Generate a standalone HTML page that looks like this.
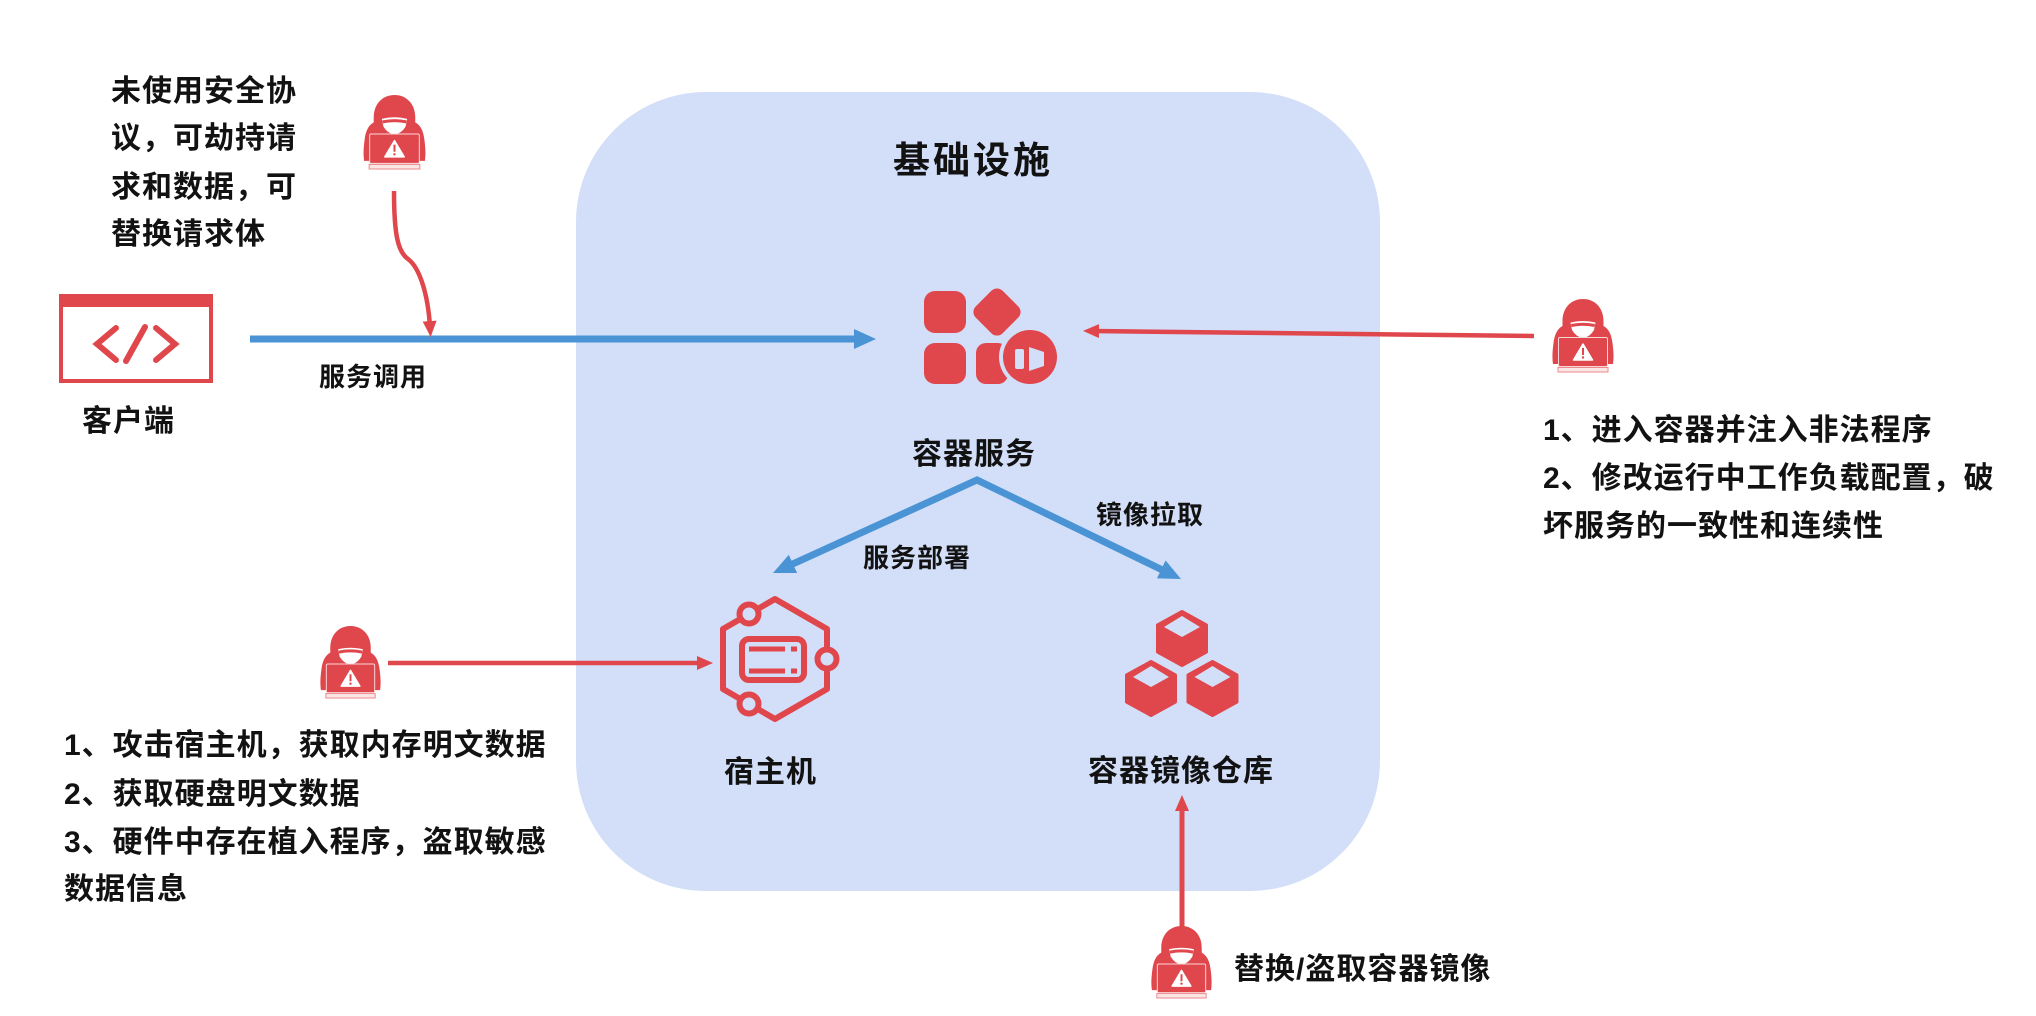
<!DOCTYPE html>
<html><head><meta charset="utf-8">
<style>
html,body{margin:0;padding:0;background:#fff;}
svg{display:block;}
text{font-family:"Liberation Sans","Noto Sans CJK SC",sans-serif;font-weight:bold;fill:#121212;}
.t{font-size:30px;letter-spacing:1px;}
.s{font-size:26px;letter-spacing:1px;}
.h{font-size:37px;letter-spacing:3px;}
</style></head><body>
<svg width="2036" height="1016" viewBox="0 0 2036 1016" xmlns="http://www.w3.org/2000/svg">
<defs>
<marker id="mb" markerUnits="userSpaceOnUse" markerWidth="22" markerHeight="20" refX="8" refY="10" orient="auto-start-reverse"><path d="M0,0 L22,10 L0,20 Z" fill="#4a94d6"/></marker>
<marker id="mr" markerUnits="userSpaceOnUse" markerWidth="16" markerHeight="14" refX="6" refY="7" orient="auto"><path d="M0,0 L16,7 L0,14 Z" fill="#e0474c"/></marker>
<symbol id="hk" viewBox="0 0 62 74">
 <path d="M31 0 C19 0 10.5 9 10.5 22 L10.5 27 C5 30 2.5 36 1.5 44 C0.5 52 0 58 1 65 L61 65 C62 58 61.5 52 60.5 44 C59.5 36 57 30 51.5 27 L51.5 22 C51.5 9 43 0 31 0 Z" fill="#e0474c"/>
 <path d="M18.5 23.5 Q31 20.5 43.5 23.5 L42 31 Q38 38 31 39 Q24 38 20 31 Z" fill="#fff"/>
 <path d="M19 25 Q31 22.5 43 25 L42.5 28 Q31 25.5 19.5 28 Z" fill="#e0474c"/>
 <rect x="6.5" y="38.5" width="49" height="29" rx="1.5" fill="#e0474c" stroke="#f7d6d7" stroke-width="1"/>
 <path d="M31 45 L40.5 61 L21.5 61 Z" fill="#fff" stroke="#fff" stroke-width="1.5" stroke-linejoin="round"/>
 <rect x="30" y="49" width="2" height="7" fill="#e0474c"/>
 <circle cx="31" cy="58.5" r="1.2" fill="#e0474c"/>
 <rect x="6" y="68.5" width="50" height="4.5" fill="#fbe6e6" stroke="#ec8a8d" stroke-width="1"/>
</symbol>
</defs>

<!-- infrastructure box -->
<rect x="576" y="92" width="804" height="799" rx="130" ry="130" fill="#d3dff8"/>

<!-- title -->
<text class="h" x="893" y="173">基础设施</text>

<!-- client icon -->
<rect x="61" y="296" width="150" height="85" fill="#fff" stroke="#e0474c" stroke-width="4"/>
<rect x="59" y="294" width="154" height="13" rx="2" fill="#e0474c"/>
<g fill="none" stroke="#e0474c" stroke-width="6" stroke-linecap="round" stroke-linejoin="miter">
 <polyline points="116,328 97,344 116,360"/>
 <line x1="145" y1="327" x2="126" y2="361"/>
 <polyline points="156,328 175,344 156,360"/>
</g>
<text class="t" x="82" y="431">客户端</text>

<!-- top-left text -->
<text class="t" x="111" y="101">未使用安全协</text>
<text class="t" x="111" y="148">议，可劫持请</text>
<text class="t" x="111" y="197">求和数据，可</text>
<text class="t" x="111" y="244">替换请求体</text>

<!-- hackers -->
<use href="#hk" x="363" y="95" width="63" height="75"/>
<use href="#hk" x="1552" y="299" width="62" height="74"/>
<use href="#hk" x="319" y="626" width="63" height="73"/>
<use href="#hk" x="1150" y="926" width="63" height="73"/>

<!-- blue service call line -->
<line x1="250" y1="339" x2="862" y2="339" stroke="#4a94d6" stroke-width="7" marker-end="url(#mb)"/>
<text class="s" x="319" y="386">服务调用</text>

<!-- red curved arrow from top hacker -->
<path d="M394 191 C394 235 398 252 408 259 C420 268 428 295 430 327" fill="none" stroke="#e0474c" stroke-width="4.5" marker-end="url(#mr)"/>

<!-- container service icon -->
<g fill="#e0474c">
 <rect x="924" y="291" width="42" height="42" rx="11"/>
 <rect x="924" y="343" width="42" height="41" rx="11"/>
 <rect x="978" y="293" width="38" height="38" rx="8" transform="rotate(45 997 312)"/>
 <rect x="976" y="343" width="32" height="41" rx="10"/>
</g>
<circle cx="1030" cy="357" r="31" fill="#d3dff8"/>
<circle cx="1030" cy="357" r="27" fill="#e0474c"/>
<rect x="1015" y="349" width="9" height="20" rx="2" fill="#d3dff8"/>
<polygon points="1029,347 1044,352 1044,366 1029,371" fill="#d3dff8"/>
<text class="t" x="912" y="464">容器服务</text>

<!-- red arrow from right hacker -->
<line x1="1534" y1="336" x2="1093" y2="331" stroke="#e0474c" stroke-width="4.5" marker-end="url(#mr)"/>

<!-- right text -->
<text class="t" x="1543" y="440">1、进入容器并注入非法程序</text>
<text class="t" x="1543" y="488">2、修改运行中工作负载配置，破</text>
<text class="t" x="1543" y="536">坏服务的一致性和连续性</text>

<!-- blue V arrows -->
<polyline points="785.7,567.2 977,480 1168.4,572.9" fill="none" stroke="#4a94d6" stroke-width="7" stroke-linejoin="miter" marker-start="url(#mb)" marker-end="url(#mb)"/>
<text class="s" x="863" y="567">服务部署</text>
<text class="s" x="1096" y="524">镜像拉取</text>

<!-- host icon -->
<polygon points="775,599 827,629 827,689 775,719 723,689 723,629" fill="none" stroke="#e0474c" stroke-width="6" stroke-linejoin="round"/>
<g fill="#d3dff8" stroke="#e0474c" stroke-width="6">
 <circle cx="749" cy="614" r="9.5"/>
 <circle cx="827" cy="659" r="9.5"/>
 <circle cx="749" cy="704" r="9.5"/>
</g>
<rect x="742" y="639" width="62" height="41" rx="7" fill="none" stroke="#e0474c" stroke-width="6"/>
<g fill="#e0474c">
 <rect x="749" y="646.5" width="36" height="5"/>
 <rect x="791" y="646.5" width="6" height="5"/>
 <rect x="749" y="668.5" width="36" height="5"/>
 <rect x="791" y="668.5" width="6" height="5"/>
</g>
<text class="t" x="724" y="782">宿主机</text>

<!-- red arrow to host -->
<line x1="388" y1="663" x2="703" y2="663" stroke="#e0474c" stroke-width="4.5" marker-end="url(#mr)"/>

<!-- left bottom text -->
<text class="t" x="64" y="755">1、攻击宿主机，获取内存明文数据</text>
<text class="t" x="64" y="804">2、获取硬盘明文数据</text>
<text class="t" x="64" y="852">3、硬件中存在植入程序，盗取敏感</text>
<text class="t" x="64" y="899">数据信息</text>

<!-- registry cubes -->
<g fill="#e0474c" stroke="#e0474c" stroke-width="3" stroke-linejoin="round">
 <polygon points="1182,611.5 1206.5,625 1206.5,652 1182,665.5 1157.5,652 1157.5,625"/>
 <polygon points="1151,661.5 1175.5,675 1175.5,702 1151,715.5 1126.5,702 1126.5,675"/>
 <polygon points="1212.5,661.5 1237,675 1237,702 1212.5,715.5 1188,702 1188,675"/>
</g>
<g fill="#d3dff8">
 <polygon points="1182,616 1200,627 1182,637 1164,627"/>
 <polygon points="1151,666 1169,677 1151,687 1133,677"/>
 <polygon points="1212.5,666 1230.5,677 1212.5,687 1194.5,677"/>
</g>
<text class="t" x="1088" y="781">容器镜像仓库</text>

<!-- bottom red arrow -->
<line x1="1182" y1="927" x2="1182" y2="805" stroke="#e0474c" stroke-width="5" marker-end="url(#mr)"/>
<text class="t" x="1234" y="979">替换/盗取容器镜像</text>
</svg>
</body></html>
